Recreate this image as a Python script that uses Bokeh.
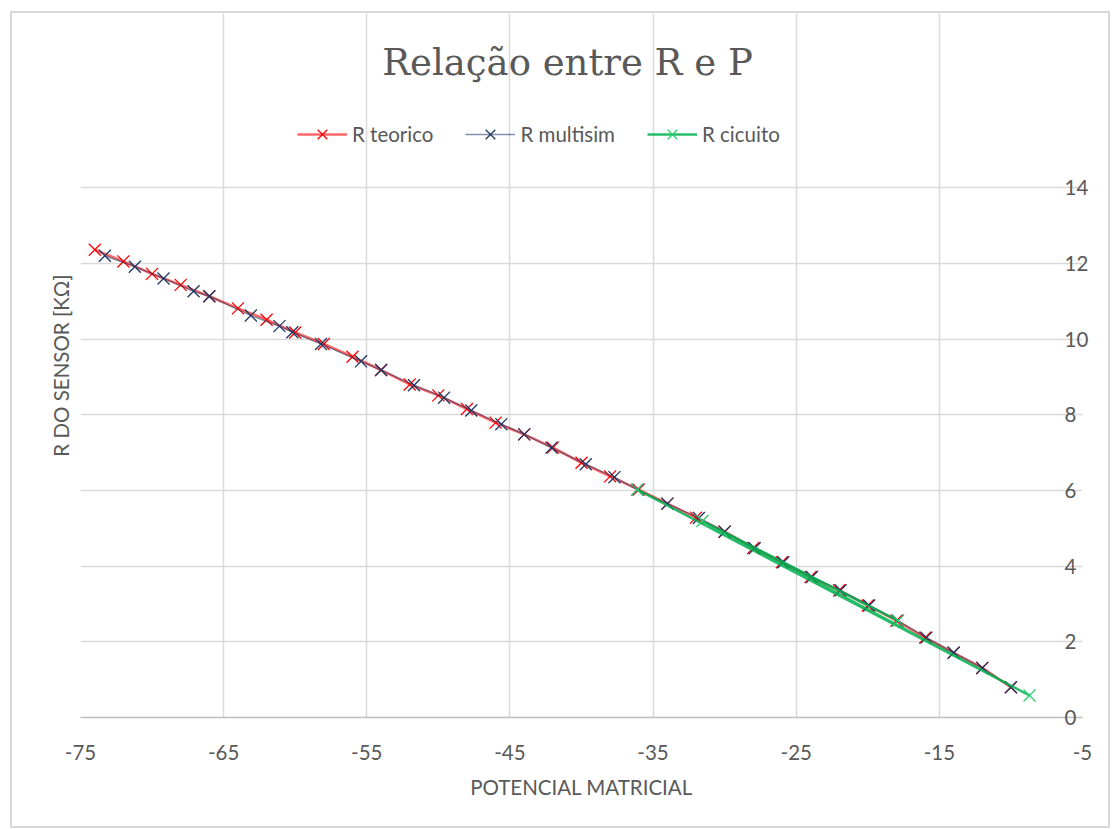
from bokeh.plotting import figure
from bokeh.models import (Range1d, FixedTicker, Legend, LegendItem, Label, LinearAxis)
from bokeh.layouts import column
from bokeh.embed import file_html
from bokeh.resources import INLINE

# ---------------- data ----------------
x_teorico = [-74, -72, -70, -68, -66, -64, -62, -60, -58, -56, -54, -52, -50, -48,
             -46, -44, -42, -40, -38, -36, -34, -32, -30, -28, -26, -24, -22, -20,
             -18, -16, -14, -12, -10]
y_teorico = [12.36, 12.05, 11.72, 11.43, 11.13, 10.81, 10.51, 10.17, 9.87, 9.53,
             9.18, 8.80, 8.51, 8.15, 7.79, 7.48, 7.13, 6.73, 6.37, 6.02, 5.65,
             5.28, 4.91, 4.48, 4.10, 3.71, 3.36, 2.96, 2.56, 2.11, 1.71, 1.31, 0.80]

x_multisim = [-73.3, -71.2, -69.2, -67.1, -66.0, -63.1, -61.1, -60.2, -58.2, -55.4,
              -54.0, -51.7, -49.6, -47.7, -45.6, -44.0, -42.1, -39.7, -37.7, -36.1,
              -34.0, -31.8, -30.0, -27.9, -25.9, -23.9, -21.9, -19.9, -17.9, -15.9,
              -14.0, -12.0, -10.0]
y_multisim = [12.20, 11.91, 11.60, 11.26, 11.13, 10.62, 10.34, 10.18, 9.87, 9.41,
              9.18, 8.78, 8.45, 8.11, 7.75, 7.48, 7.13, 6.69, 6.35, 6.02, 5.65,
              5.27, 4.91, 4.47, 4.10, 3.71, 3.36, 2.96, 2.56, 2.11, 1.71, 1.31, 0.80]

x_circuito = [-36.1, -8.7, -31.55, -17.9]
y_circuito = [6.02, 0.58, 5.19, 2.56]

x_ticks = [-75, -65, -55, -45, -35, -25, -15, -5]
x_tick_labels = [str(v) for v in x_ticks]
y_ticks = [0, 2, 4, 6, 8, 10, 12, 14]

title_text = "Relação entre R e P"
x_title = "POTENCIAL MATRICIAL"
y_title = "R DO SENSOR [KΩ]"
series_names = ["R teorico", "R multisim", "R cicuito"]

# ---------------- styles ----------------
FONT = "Lato"
GREY = "#595959"
GRID = "#D9D9D9"
FS = "20.5px"

# The frame reaches the top of the chart so that title and legend (drawn inside it)
# are not clipped; grid lines are bounded to the 0..14 value range.
p = figure(width=1096, height=813,
           x_range=Range1d(-75, -5), y_range=Range1d(0, 18.6),
           output_backend="svg", toolbar_location=None,
           min_border_left=68, min_border_right=26,
           min_border_top=0, min_border_bottom=109,
           background_fill_color="white", border_fill_color="white")
p.outline_line_color = None

# x axis
p.xaxis.ticker = FixedTicker(ticks=x_ticks)
p.xaxis.major_label_overrides = {v: s for v, s in zip(x_ticks, x_tick_labels)}
p.xaxis.axis_label = x_title
p.xaxis.axis_label_text_font = FONT
p.xaxis.axis_label_text_font_size = FS
p.xaxis.axis_label_text_font_style = "normal"
p.xaxis.axis_label_text_color = GREY
p.xaxis.axis_label_standoff = 12
p.xaxis.major_label_text_font = FONT
p.xaxis.major_label_text_font_size = FS
p.xaxis.major_label_text_color = GREY
p.xaxis.major_label_standoff = 21
p.xaxis.major_tick_line_color = None
p.xaxis.minor_tick_line_color = None
p.xaxis.axis_line_color = "#BFBFBF"
p.xaxis.axis_line_width = 1.5

# left axis: only the title
p.yaxis.ticker = FixedTicker(ticks=[])
p.yaxis.axis_label = y_title
p.yaxis.axis_label_text_font = FONT
p.yaxis.axis_label_text_font_size = FS
p.yaxis.axis_label_text_font_style = "normal"
p.yaxis.axis_label_text_color = GREY
p.yaxis.major_tick_line_color = None
p.yaxis.minor_tick_line_color = None
p.yaxis.axis_line_color = None
p.yaxis.axis_label_standoff = 8
p.yaxis.axis_label_text_baseline = "middle"

# right axis: value labels
ry = LinearAxis(ticker=FixedTicker(ticks=y_ticks))
ry.major_label_text_font = FONT
ry.major_label_text_font_size = FS
ry.major_label_text_color = GREY
ry.major_label_text_align = "right"
ry.major_label_standoff = -24
ry.major_tick_line_color = None
ry.minor_tick_line_color = None
ry.axis_line_color = None
p.add_layout(ry, "right")

p.xgrid.grid_line_color = GRID
p.xgrid.grid_line_width = 1.5
p.xgrid.bounds = (0, 14)
p.ygrid.grid_line_color = GRID
p.ygrid.grid_line_width = 1.5
p.ygrid.ticker = FixedTicker(ticks=y_ticks)

# title
title = Label(x=-40, y=14, x_offset=-14, y_offset=125, text=title_text,
              text_align="center", text_baseline="middle",
              text_font="DejaVu Serif", text_font_size="37px", text_color=GREY)
p.add_layout(title)

# series
r_line = p.line(x_teorico, y_teorico, line_color="#FF0000", line_width=2.6, line_alpha=0.6)
r_pts = p.scatter(x_teorico, y_teorico, marker="x", size=17, line_color="#FF0000", line_width=1.3)

b_line = p.line(x_multisim, y_multisim, line_color="#203864", line_width=1.4, line_alpha=0.55)
b_pts = p.scatter(x_multisim, y_multisim, marker="x", size=17, line_color="#1F3864", line_width=1.3)

g_line = p.line(x_circuito, y_circuito, line_color="#00B050", line_width=2.4, line_alpha=0.85)
g_pts = p.scatter(x_circuito, y_circuito, marker="x", size=17, line_color="#2ECC71", line_width=1.3)

legend = Legend(items=[
    LegendItem(label=series_names[0], renderers=[r_line, r_pts]),
    LegendItem(label=series_names[1], renderers=[b_line, b_pts]),
    LegendItem(label=series_names[2], renderers=[g_line, g_pts]),
], orientation="horizontal", location=(217, 566))
legend.label_text_font = FONT
legend.label_text_font_size = FS
legend.label_text_color = GREY
legend.glyph_width = 50
legend.glyph_height = 34
legend.spacing = 32
legend.label_standoff = 5
legend.padding = 0
legend.margin = 0
legend.border_line_color = None
legend.background_fill_alpha = 0
p.add_layout(legend)

layout = column(p, styles={"border": "2px solid #D9D9D9", "margin-left": "10px", "margin-top": "11px"})

open("out.html", "w").write(file_html(layout, INLINE))
